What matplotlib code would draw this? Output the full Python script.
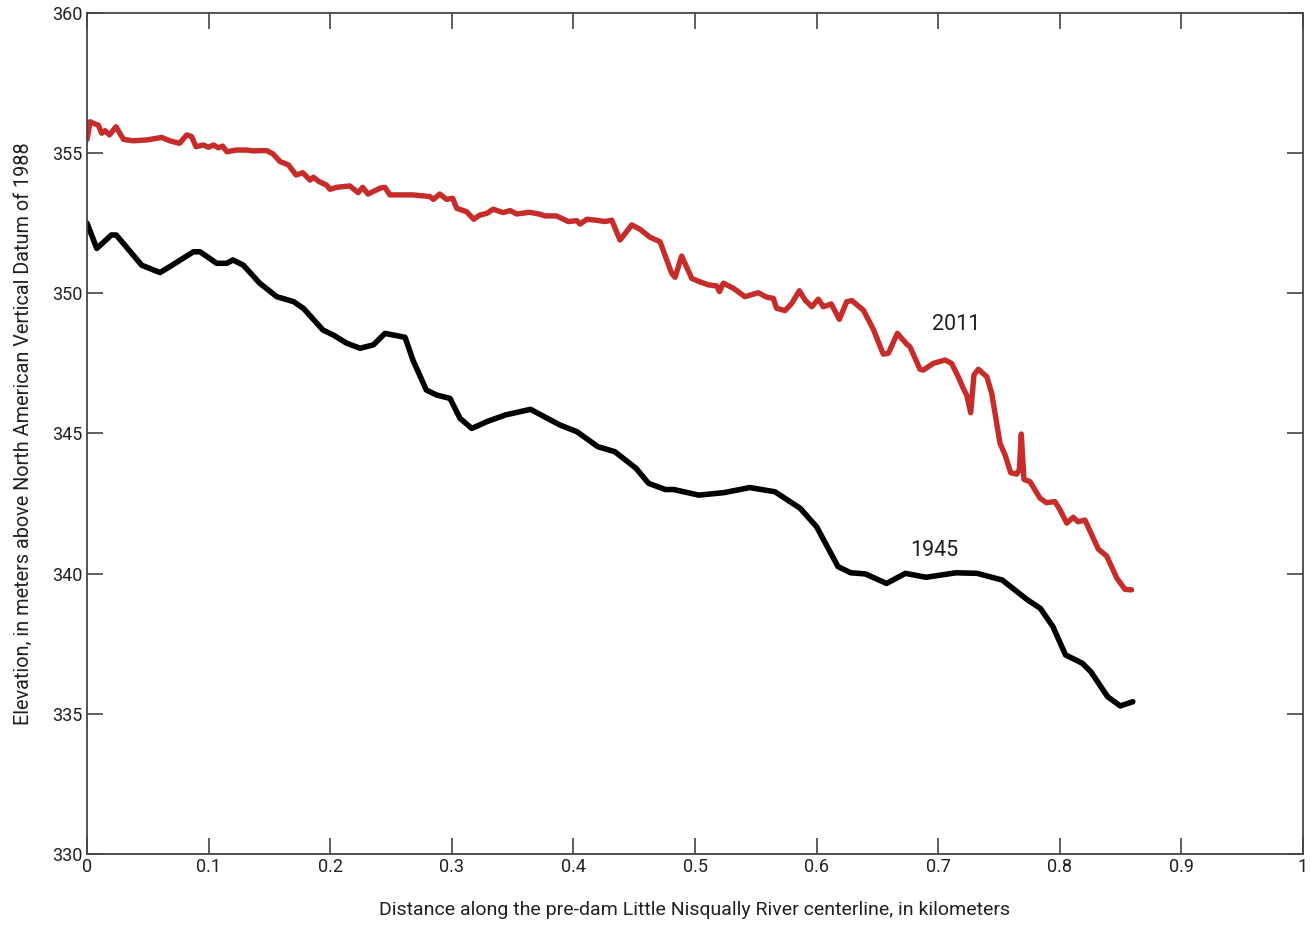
import matplotlib
matplotlib.use("Agg")
import matplotlib.pyplot as plt

# ── DATA ─────────────────────────────────────────────────────────────────────
# 1945 channel profile
dist_1945 = [0.0, 0.008, 0.020, 0.024, 0.045, 0.060, 0.068, 0.0875, 0.093, 0.1066,
             0.115, 0.120, 0.1286, 0.142, 0.156, 0.170, 0.178, 0.194, 0.2026, 0.2135,
             0.2245, 0.2355, 0.245, 0.2615, 0.268, 0.279, 0.2876, 0.2985, 0.3067, 0.3164,
             0.3287, 0.344, 0.3647, 0.389, 0.403, 0.420, 0.434, 0.4514, 0.4618, 0.4756,
             0.4826, 0.503, 0.524, 0.545, 0.5657, 0.5865, 0.600, 0.6176, 0.628, 0.640,
             0.6575, 0.673, 0.690, 0.7146, 0.732, 0.7527, 0.7735, 0.784, 0.7943, 0.8047,
             0.8186, 0.8255, 0.8393, 0.8497, 0.860]
elev_1945 = [352.5, 351.6, 352.08, 352.08, 351.0, 350.74, 350.95, 351.48, 351.48, 351.07,
             351.07, 351.19, 351.0, 350.36, 349.88, 349.70, 349.46, 348.69, 348.51, 348.22,
             348.04, 348.16, 348.57, 348.43, 347.62, 346.55, 346.37, 346.25, 345.54, 345.18,
             345.42, 345.66, 345.86, 345.30, 345.06, 344.53, 344.35, 343.76, 343.22, 343.0,
             343.0, 342.80, 342.89, 343.07, 342.92, 342.33, 341.67, 340.25, 340.03, 339.99,
             339.65, 340.01, 339.87, 340.03, 340.01, 339.77, 339.06, 338.76, 338.11, 337.10,
             336.80, 336.50, 335.61, 335.28, 335.43]

# 2011 channel profile
dist_2011 = [0.0, 0.0025, 0.0066, 0.0093, 0.012, 0.0148, 0.0184, 0.0238, 0.030, 0.038,
             0.049, 0.0614, 0.068, 0.076, 0.082, 0.086, 0.0896, 0.0957, 0.0998, 0.104,
             0.108, 0.1115, 0.115, 0.123, 0.131, 0.1368, 0.1478, 0.153, 0.1587, 0.1656,
             0.1719, 0.1774, 0.1834, 0.1861, 0.191, 0.197, 0.1998, 0.2053, 0.216, 0.223,
             0.2267, 0.231, 0.241, 0.245, 0.249, 0.2574, 0.268, 0.282, 0.2848, 0.290,
             0.2958, 0.3007, 0.304, 0.3122, 0.318, 0.323, 0.3287, 0.334, 0.342, 0.348,
             0.3533, 0.364, 0.3725, 0.3766, 0.386, 0.3958, 0.4027, 0.4054, 0.411, 0.418,
             0.426, 0.4315, 0.4383, 0.448, 0.4548, 0.463, 0.4712, 0.4808, 0.4836, 0.489,
             0.4973, 0.504, 0.511, 0.518, 0.520, 0.5233, 0.5315, 0.541, 0.552, 0.559,
             0.5644, 0.567, 0.574, 0.5795, 0.5858, 0.5905, 0.596, 0.6014, 0.6055, 0.612,
             0.6187, 0.6247, 0.629, 0.6384, 0.6466, 0.6548, 0.659, 0.6664, 0.674, 0.6768,
             0.685, 0.6877, 0.696, 0.7056, 0.711, 0.7165, 0.7206, 0.7234, 0.7267, 0.7294,
             0.733, 0.740, 0.744, 0.7508, 0.755, 0.7596, 0.7645, 0.7667, 0.7683, 0.7705,
             0.7755, 0.7837, 0.789, 0.796, 0.8002, 0.8057, 0.811, 0.815, 0.8207, 0.8317,
             0.8385, 0.847, 0.8536, 0.859]
elev_2011 = [355.49, 356.12, 356.04, 356.0, 355.71, 355.80, 355.65, 355.94, 355.49, 355.44,
             355.47, 355.56, 355.44, 355.35, 355.65, 355.59, 355.23, 355.29, 355.21, 355.29,
             355.19, 355.25, 355.05, 355.11, 355.11, 355.08, 355.09, 354.97, 354.70, 354.58,
             354.22, 354.30, 354.04, 354.14, 353.98, 353.86, 353.71, 353.78, 353.83, 353.59,
             353.78, 353.54, 353.75, 353.78, 353.51, 353.51, 353.51, 353.45, 353.35, 353.54,
             353.35, 353.39, 353.03, 352.91, 352.64, 352.79, 352.85, 353.0, 352.88, 352.95,
             352.83, 352.89, 352.82, 352.76, 352.76, 352.56, 352.59, 352.47, 352.64, 352.61,
             352.56, 352.61, 351.90, 352.44, 352.28, 352.0, 351.84, 350.71, 350.57, 351.33,
             350.53, 350.41, 350.30, 350.26, 350.06, 350.36, 350.18, 349.88, 350.02, 349.86,
             349.82, 349.47, 349.38, 349.64, 350.09, 349.76, 349.52, 349.79, 349.52, 349.62,
             349.07, 349.70, 349.74, 349.40, 348.72, 347.83, 347.86, 348.57, 348.19, 348.09,
             347.29, 347.26, 347.50, 347.62, 347.50, 347.02, 346.61, 346.37, 345.74, 347.09,
             347.29, 347.02, 346.43, 344.65, 344.23, 343.60, 343.55, 343.70, 344.98, 343.36,
             343.28, 342.69, 342.53, 342.57, 342.27, 341.80, 342.01, 341.85, 341.91, 340.87,
             340.63, 339.83, 339.44, 339.42]

x_ticks = [0, 0.1, 0.2, 0.3, 0.4, 0.5, 0.6, 0.7, 0.8, 0.9, 1]
x_tick_labels = ["0", "0.1", "0.2", "0.3", "0.4", "0.5", "0.6", "0.7", "0.8", "0.9", "1"]
y_ticks = [330, 335, 340, 345, 350, 355, 360]

RED = "#c62d2a"
FONT = ["Liberation Sans Narrow", "Roboto", "DejaVu Sans"]
plt.rcParams["font.family"] = FONT

fig = plt.figure(figsize=(13.13, 9.26), dpi=100)
ax = fig.add_axes([0.0663, 0.0778, 0.9261, 0.9082])

ax.plot(dist_2011, elev_2011, color=RED, linewidth=3.9, solid_joinstyle="round",
        solid_capstyle="round")
ax.plot(dist_1945, elev_1945, color="black", linewidth=4.0, solid_joinstyle="round",
        solid_capstyle="round")

ax.text(0.7146, 348.87, "2011", fontsize=15.5, color="#231f20", ha="center", va="center")
ax.text(0.697, 340.84, "1945", fontsize=15.5, color="#231f20", ha="center", va="center")

ax.set_xlim(0, 1)
ax.set_ylim(330, 360)
ax.set_xticks(x_ticks)
ax.set_xticklabels(x_tick_labels)
ax.set_yticks(y_ticks)

for s in ax.spines.values():
    s.set_color("#444444")
    s.set_linewidth(1.3)
ax.tick_params(direction="in", length=11.5, width=1.2, color="#444444",
               top=True, right=True, labelsize=13, labelcolor="#231f20", pad=3)

ax.set_xlabel("Distance along the pre-dam Little Nisqually River centerline, in kilometers",
              fontsize=14, color="#231f20", labelpad=18)
ax.set_ylabel("Elevation, in meters above North American Vertical Datum of 1988",
              fontsize=14.3, color="#231f20", labelpad=14)

fig.savefig("out.png", dpi=100)
